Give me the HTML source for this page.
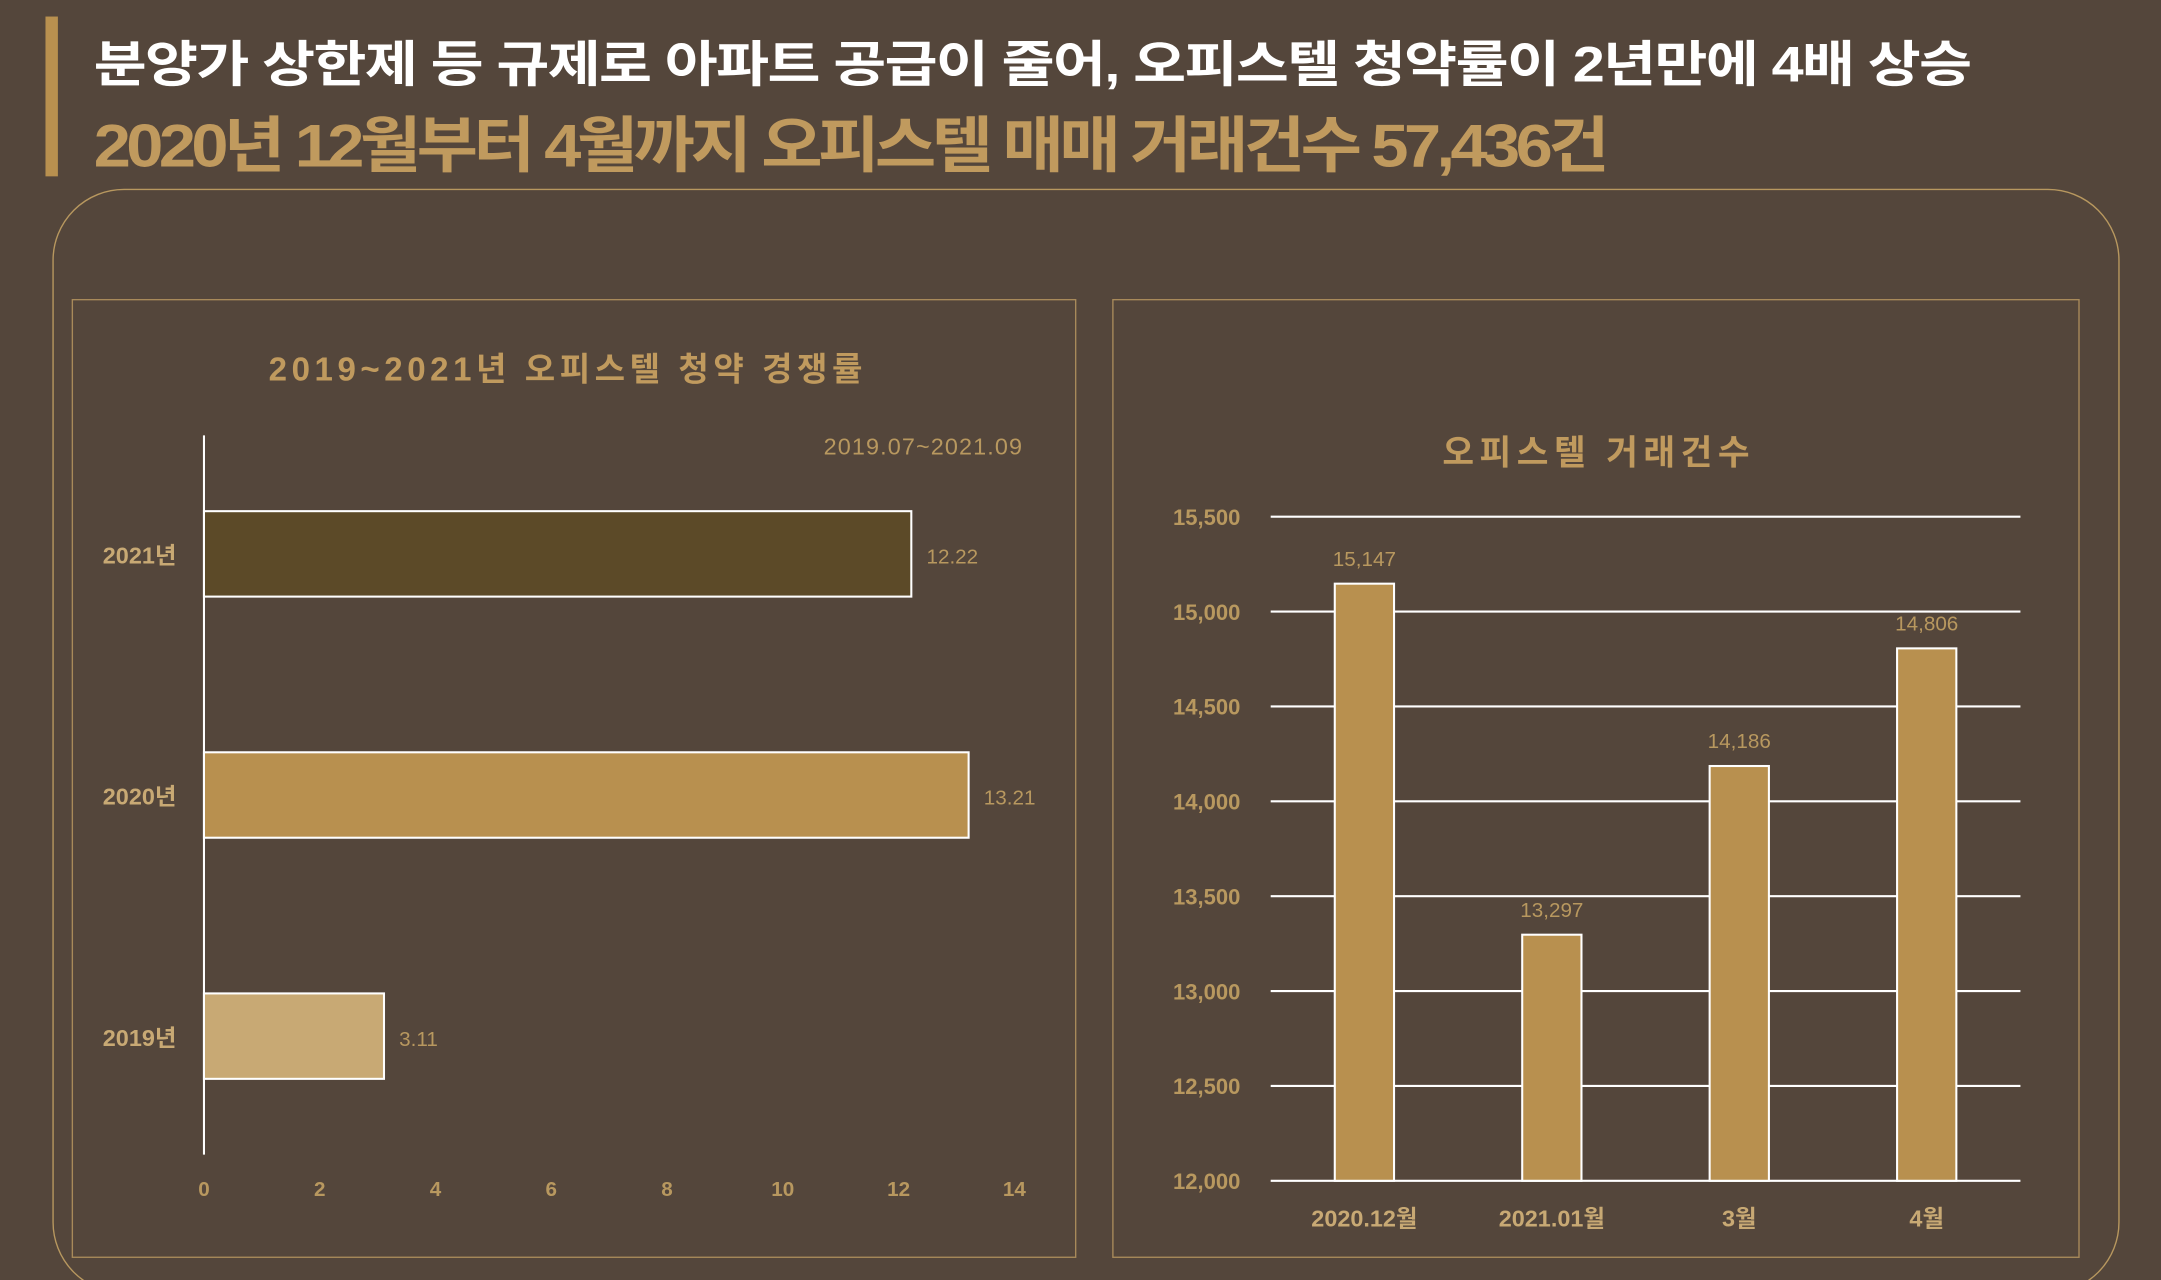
<!DOCTYPE html>
<html><head><meta charset="utf-8"><style>
html,body{margin:0;padding:0;background:#54463b;overflow:hidden;width:2161px;height:1280px}
#wrap{width:1568px;height:929px;transform:scale(1.37819,1.37783);transform-origin:0 0;position:relative;overflow:hidden;font-family:"Liberation Sans","Noto Sans CJK KR",sans-serif}
.abs{position:absolute}
</style></head><body>
<div id="wrap">
<div class="abs" style="left:33px;top:12px;width:9px;height:116px;background:#b8904f"></div>
<div class="abs" style="left:68px;top:18px;font-size:36px;font-weight:bold;color:#fff;letter-spacing:-1px;white-space:nowrap;transform:scaleX(1.16);transform-origin:0 0">분양가 상한제 등 규제로 아파트 공급이 줄어, 오피스텔 청약률이 2년만에 4배 상승</div>
<div class="abs" style="left:68px;top:70px;font-size:44px;font-weight:bold;color:#c09a5e;letter-spacing:-3px;white-space:nowrap;transform:scaleX(1.10);transform-origin:0 0">2020년 12월부터 4월까지 오피스텔 매매 거래건수 57,436건</div>
<div class="abs" style="left:38px;top:137px;width:1498px;height:800px;border:1.5px solid #b8985f;border-radius:52px"></div>
<div class="abs" style="left:52px;top:217px;width:727px;height:694px;border:1px solid #a88a5a"></div>
<div class="abs" style="left:807px;top:217px;width:700px;height:694px;border:1px solid #a88a5a"></div>
<svg class="abs" style="left:0;top:0" width="1568" height="929" id="svg"
 font-family="Liberation Sans, Noto Sans CJK KR, sans-serif">
<text x="412" y="276" text-anchor="middle" font-size="24" font-weight="bold" letter-spacing="3.3" fill="#c09a5e">2019~2021년 오피스텔 청약 경쟁률</text>
<text x="670" y="330" text-anchor="middle" font-size="17" letter-spacing="0.8" fill="#b8985f">2019.07~2021.09</text>
<text x="1160" y="337" text-anchor="middle" font-size="25" font-weight="bold" letter-spacing="4" fill="#c09a5e">오피스텔 거래건수</text>
<g id="left"></g><g id="right"></g>
</svg>
</div>
<script>
const hCats=["2021년","2020년","2019년"];
const hVals=[12.22,13.21,3.11];
const hColors=["#5c4a28","#b8904f","#c8a974"];
const hTicks=[0,2,4,6,8,10,12,14];
const vCats=["2020.12월","2021.01월","3월","4월"];
const vVals=[15147,13297,14186,14806];
const vTicks=[12000,12500,13000,13500,14000,14500,15000,15500];
const NS="http://www.w3.org/2000/svg";
function mk(p,t,a,txt){const e=document.createElementNS(NS,t);for(const k in a)e.setAttribute(k,a[k]);if(txt!==undefined)e.textContent=txt;p.appendChild(e);return e;}
const L=document.getElementById('left'),R=document.getElementById('right');
const hx=v=>148+v*42, hy=i=>402+i*175;
let ax=mk(L,'line',{x1:148,x2:148,y1:316,y2:838,stroke:'#fff','stroke-width':1.5});


hTicks.forEach(t=>{const e=mk(L,'text',{x:hx(t),y:868,'text-anchor':'middle','font-size':15,'font-weight':'bold',fill:'#b8985f'},t);

});
hCats.forEach((c,i)=>{
const b=mk(L,'rect',{x:hx(0),y:hy(i)-31,width:hx(hVals[i])-hx(0),height:62,fill:hColors[i],stroke:'#fff','stroke-width':1.5});


const l=mk(L,'text',{x:128,y:hy(i)+7,'text-anchor':'end','font-size':17,'font-weight':'bold',fill:'#c8a974'},c);


const v=mk(L,'text',{x:hx(hVals[i])+11,y:hy(i)+7,'font-size':15,fill:'#b8985f'},hVals[i].toFixed(2));


});
const vy=v=>857-(v-12000)*(482/3500), vx=i=>990+i*136;
vTicks.forEach(t=>{const g=mk(R,'line',{x1:922,x2:1466,y1:vy(t),y2:vy(t),stroke:'#fff','stroke-width':1.5});


const e=mk(R,'text',{x:900,y:vy(t)+6,'text-anchor':'end','font-size':16,'font-weight':'bold',fill:'#b8985f'},t.toLocaleString('en-US'));

});
vCats.forEach((c,i)=>{
const b=mk(R,'rect',{x:vx(i)-21.5,y:vy(vVals[i]),width:43,height:vy(12000)-vy(vVals[i]),fill:'#b8904f',stroke:'#fff','stroke-width':1.5});


const v=mk(R,'text',{x:vx(i),y:vy(vVals[i])-13,'text-anchor':'middle','font-size':15,fill:'#b8985f'},vVals[i].toLocaleString('en-US'));


const l=mk(R,'text',{x:vx(i),y:890,'text-anchor':'middle','font-size':17,'font-weight':'bold',fill:'#c8a974'},c);


});
</script>
</body></html>
